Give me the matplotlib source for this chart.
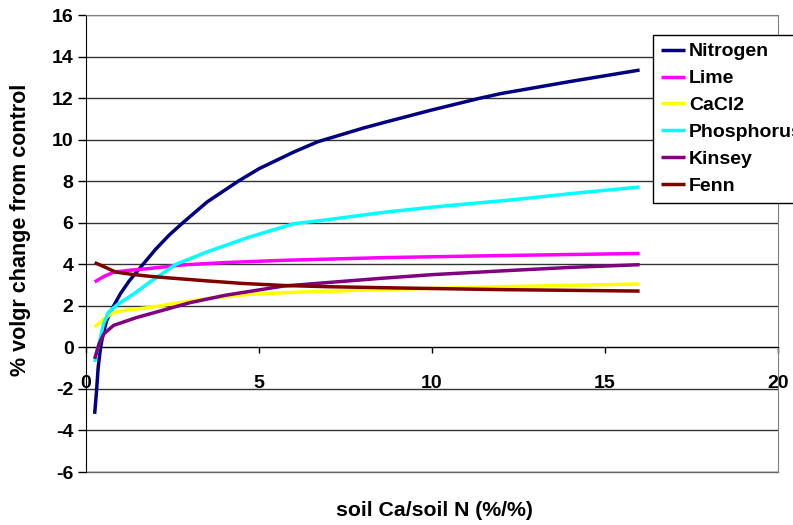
import numpy as np
import matplotlib
matplotlib.use('Agg')
import matplotlib.pyplot as plt

plt.rcParams['font.family'] = ['Liberation Sans', 'DejaVu Sans']
plt.rcParams['font.weight'] = 'bold'
plt.rcParams['axes.unicode_minus'] = False

# values
nitrogen_x = [0.25, 0.3, 0.35, 0.42, 0.5, 0.6, 0.8, 1.0, 1.25, 1.6, 2.0, 2.4, 2.8, 3.5,
              4.4, 5.0, 6.0, 6.7, 8.0, 8.6, 10.0, 11.4, 12.0, 14.0, 16.0]
nitrogen_y = [-3.2, -2.2, -1.0, 0.0, 0.7, 1.3, 2.0, 2.6, 3.2, 3.9, 4.7, 5.4, 6.0, 7.0,
              8.0, 8.6, 9.4, 9.9, 10.55, 10.82, 11.43, 12.0, 12.22, 12.8, 13.35]

lime_x = [0.25, 0.5, 0.8, 1.2, 1.85, 2.8, 4.0, 5.7, 8.6, 12.0, 16.0]
lime_y = [3.15, 3.4, 3.62, 3.7, 3.8, 3.97, 4.08, 4.19, 4.32, 4.42, 4.52]

cacl2_x = [0.25, 0.5, 0.8, 1.2, 1.85, 2.5, 3.5, 4.7, 6.0, 9.0, 12.0, 16.0]
cacl2_y = [0.98, 1.35, 1.68, 1.8, 1.92, 2.1, 2.35, 2.55, 2.65, 2.8, 2.92, 3.05]

phos_x = [0.25, 0.3, 0.38, 0.5, 0.65, 0.9, 1.4, 1.85, 2.25, 2.6, 3.5, 4.7, 6.0,
          7.0, 8.6, 10.0, 12.3, 14.0, 16.0]
phos_y = [-0.7, -0.3, 0.2, 1.1, 1.7, 2.05, 2.6, 3.15, 3.6, 4.0, 4.6, 5.3, 5.95,
          6.15, 6.5, 6.75, 7.1, 7.4, 7.72]

kinsey_x = [0.25, 0.38, 0.52, 0.8, 1.45, 2.25, 3.0, 4.0, 5.7, 8.5, 10.0, 12.0, 14.0, 16.0]
kinsey_y = [-0.55, 0.18, 0.66, 1.06, 1.43, 1.8, 2.15, 2.5, 2.95, 3.32, 3.5, 3.68, 3.85, 3.98]

fenn_x = [0.25, 0.5, 0.85, 1.3, 1.85, 2.5, 3.5, 4.5, 5.7, 7.0, 9.0, 12.0, 16.0]
fenn_y = [4.08, 3.9, 3.63, 3.52, 3.42, 3.33, 3.2, 3.08, 2.98, 2.92, 2.86, 2.78, 2.71]

series = [
    ('Nitrogen', nitrogen_x, nitrogen_y, '#000080'),
    ('Lime', lime_x, lime_y, '#FF00FF'),
    ('CaCl2', cacl2_x, cacl2_y, '#FFFF00'),
    ('Phosphorus', phos_x, phos_y, '#00FFFF'),
    ('Kinsey', kinsey_x, kinsey_y, '#800080'),
    ('Fenn', fenn_x, fenn_y, '#800000'),
]

fig = plt.figure(figsize=(7.93, 5.25), dpi=100)
ax = fig.add_axes([86 / 793, 1 - 472 / 525, (778 - 86) / 793, (472 - 15) / 525])

for name, x, y, c in series:
    ax.plot(x, y, color=c, lw=2.5, label=name, solid_capstyle='butt',
            solid_joinstyle='round', zorder=3)

ax.set_xlim(0, 20)
ax.set_ylim(-6, 16)
ax.set_yticks(np.arange(-6, 17, 2))
ax.set_xticks([0, 5, 10, 15, 20])
ax.yaxis.grid(True, color='#333333', lw=1.0, zorder=1)
ax.axhline(-6, color='#666666', lw=1.0, clip_on=False, zorder=1)

ax.spines['bottom'].set_position(('data', 0))
ax.spines['bottom'].set_color('black')
ax.spines['left'].set_color('black')
ax.spines['right'].set_color('#808080')
ax.spines['top'].set_color('#808080')

ax.tick_params(axis='y', direction='out', length=6, width=1, labelsize=14, pad=3)
ax.tick_params(axis='x', direction='out', length=4, width=1, labelsize=14, pad=16)
for lab in ax.get_xticklabels() + ax.get_yticklabels():
    lab.set_fontweight('bold')

fig.text(0.026, 1 - 230 / 525, '% volgr change from control',
         rotation=90, ha='center', va='center', fontsize=15.5, fontweight='bold')
fig.text(434 / 793, 1 - 510 / 525, 'soil Ca/soil N (%/%)',
         ha='center', va='center', fontsize=15.3, fontweight='bold')

leg = fig.legend(loc='upper left', bbox_to_anchor=(653 / 793, 1 - 35 / 525),
                 fontsize=14, frameon=True, fancybox=False, framealpha=1,
                 edgecolor='black', handlelength=1.25, handletextpad=0.2,
                 labelspacing=0.48, borderpad=0.4, borderaxespad=0)
leg.get_frame().set_linewidth(1.0)
for t in leg.get_texts():
    t.set_fontweight('bold')

fig.savefig('out.png', dpi=100)
